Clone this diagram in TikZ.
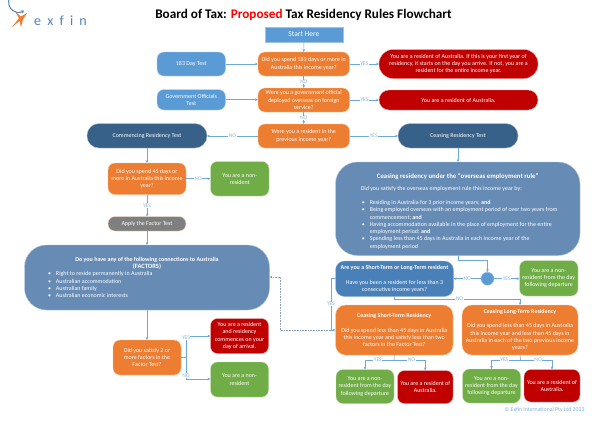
\documentclass[tikz,border=0pt]{standalone}
\usepackage{fontspec}
\setmainfont{Carlito}
\usetikzlibrary{arrows.meta,calc}
\definecolor{cblue}{HTML}{5B9BD5}
\definecolor{cdark}{HTML}{376188}
\definecolor{cmid}{HTML}{668BB4}
\definecolor{csl}{HTML}{4A80B8}
\definecolor{corange}{HTML}{ED7D31}
\definecolor{cred}{HTML}{C00000}
\definecolor{cgreen}{HTML}{70AD47}
\definecolor{cgray}{HTML}{7F7F7F}
\definecolor{cline}{HTML}{6FA8DC}
\definecolor{clab}{HTML}{8FB5DC}
\tikzset{
  boxbase/.style={rounded corners=#1,inner sep=0pt,outer sep=0pt,text=white,align=center,font=\fontsize{6}{7.3}\selectfont},
  boxbase/.default=7pt,
  bluebox/.style={boxbase,fill=cblue,draw=cblue!45},
  orangebox/.style={boxbase,fill=corange,draw=corange!45},
  redbox/.style={boxbase,fill=cred,draw=cred!35},
  greenbox/.style={boxbase,fill=cgreen,draw=cgreen!45},
  pillbox/.style={boxbase=12pt,fill=cdark,draw=cdark!45},
  midbox/.style={boxbase=22pt,fill=cmid,draw=cmid!50},
  conn/.style={draw=cline,line width=.6pt,-{Stealth[length=3pt,width=2.6pt]}},
  dashconn/.style={draw=cdark!60,line width=.6pt,densely dotted,-{Stealth[length=3pt,width=2.8pt]}},
  lab/.style={fill=white,inner sep=.4pt,text=clab,font=\fontsize{5.6}{5.6}\selectfont},
}
\newcommand{\bx}[7]{%
  \pgfmathsetmacro\cxx{(#3+#5)/2}\pgfmathsetmacro\cyy{(#4+#6)/2}%
  \pgfmathsetmacro\wdd{#5-#3}\pgfmathsetmacro\htt{#6-#4}%
  \node[#2,minimum width=\wdd pt,minimum height=\htt pt] (#1) at (\cxx,\cyy) {#7};}
\newcommand{\bul}[1]{\par{\leftskip=9pt\noindent\llap{\textbullet\hspace{5pt}}#1\par}}
\begin{document}
\begin{tikzpicture}[x=1pt,y=-1pt]
\useasboundingbox (0,0) rectangle (600,424);
\node[inner sep=0pt,font=\bfseries\fontsize{13.2}{14}\selectfont] (title) at (303.5,15) {Board of Tax: \textcolor{red}{Proposed} Tax Residency Rules Flowchart};
% logo
\node[inner sep=0pt,text=cblue!85!black,font=\fontsize{14}{14}\selectfont] (logotext) at (60.5,21) {e\hspace{6.2pt}x\hspace{6.2pt}f\hspace{6.2pt}i\hspace{6.2pt}n};
\draw[cblue!85!black,line width=1pt,{Stealth[length=3pt,width=4pt]}-] (24,10.5) arc[start angle=55,end angle=320,radius=9.8];
\fill[corange] (12,27) -- (19,18) -- (15,11.5) -- (21,16.5) -- (27,13) -- (23,19.5) -- (21,27) -- (19.5,21) -- cycle;
% boxes
\bx{start}{boxbase=0pt,fill=cblue,draw=cblue!60,font=\fontsize{7.5}{9}\selectfont}{264.7}{27}{343}{42}{Start Here}
\bx{t183}{bluebox}{157}{52}{225.5}{76}{183 Day Test}
\bx{tgov}{bluebox}{157}{89.5}{225.5}{110}{Government Officials\\Test}
\bx{q183}{orangebox}{258}{52}{349.5}{76}{Did you spend 183 days or more in\\Australia this income year?}
\bx{qgov}{orangebox}{258}{88}{349.5}{112}{Were you a government official\\deployed overseas on foreign\\service?}
\bx{qprev}{orangebox}{258}{124}{349.5}{148}{Were you a resident in the\\previous income year?}
\bx{r183}{redbox,boxbase=14pt}{379}{49.5}{538}{78.5}{You are a resident of Australia.  If this is your first year of\\residency, it starts on the day you arrive. If not, you are a\\resident for the entire income year.}
\bx{rgov}{redbox,boxbase=10pt}{379}{90}{538}{110}{You are a resident of Australia.}
\bx{tcom}{pillbox}{87}{123.5}{207}{148}{Commencing Residency Test}
\bx{tcea}{pillbox}{398}{123.5}{518}{148}{Ceasing Residency Test}
\bx{q45}{orangebox}{108}{163}{186}{194.5}{Did you spend 45 days or\\more in Australia this income\\year?}
\bx{gnon}{greenbox}{210.5}{161.5}{269}{196}{You are a non-\\resident}
\bx{apply}{boxbase=7pt,fill=cgray,draw=corange!30}{108}{216.5}{186}{231}{Apply the Factor Test}
\bx{factors}{midbox}{24.5}{245}{269.5}{310}{%
  \begin{minipage}{200pt}\fontsize{6}{7.3}\selectfont
  {\centering\textbf{Do you have any of the following connections to Australia}\\\textbf{\fontsize{6.5}{7.3}\selectfont (FACTORS)}\par}
  \bul{Right to reside permanently in Australia}
  \bul{Australian accommodation}
  \bul{Australian family}
  \bul{Australian economic interests}
  \end{minipage}}
\bx{q2f}{orangebox}{113}{340}{181}{375}{Did you satisfy 2 or\\more factors in the\\Factor Test?}
\bx{rarr}{redbox}{210.5}{318.5}{268.5}{353.5}{You are a resident\\and residency\\commences on your\\day of arrival.}
\bx{gnon2}{greenbox}{210.5}{362}{268.5}{397}{You are a non-\\resident}
\bx{oer}{midbox}{335.5}{162}{580}{255.5}{%
  \begin{minipage}{194pt}\fontsize{6}{7.3}\selectfont
  \vspace*{5pt}
  {\centering\textbf{\fontsize{6.8}{7.3}\selectfont Ceasing residency under the ``overseas employment rule''}\par}
  \vspace{4.6pt}\noindent\mbox{Did you satisfy the overseas employment rule this income year by:}\par\vspace{7pt}
  \bul{Residing in Australia for 3 prior income years; \textbf{and}}
  \bul{\mbox{Being employed overseas with an employment period of over two years from}\\commencement; \textbf{and}}
  \bul{\mbox{Having accommodation available in the place of employment for the entire}\\employment period; \textbf{and}}
  \bul{\mbox{Spending less than 45 days in Australia in each income year of the}\\employment period}
  \end{minipage}}
\bx{stlt}{boxbase=9pt,fill=csl,draw=csl!50}{335.5}{261}{453.5}{296.5}{\textbf{Are you a Short-Term or Long-Term resident}\\[7.3pt]Have you been a resident for less than 3\\consecutive income years?}
\node[circle,fill=cblue,draw=cblue!60,inner sep=0pt,outer sep=0pt,minimum size=13pt] (junc) at (487.5,278.7) {};
\bx{gdep}{greenbox}{519.5}{260.5}{578}{296}{You are a non-\\resident from the day\\following departure}
\bx{qst}{orangebox,boxbase=10pt}{335.5}{305}{453}{355}{\textbf{Ceasing Short-Term Residency}\\[7.3pt]Did you spend less than 45 days in Australia\\this income year and satisfy less than two\\factors in the Factor Test?}
\bx{qlt}{orangebox,boxbase=10pt}{462}{305}{578}{355}{\textbf{Ceasing Long-Term Residency}\\[7.3pt]Did you spend less than 45 days in Australia\\this income year and less than 45 days in\\Australia in each of the two previous income\\years?}
\bx{gst}{greenbox}{336}{369.5}{394}{403.5}{You are a non-\\resident from the day\\following departure}
\bx{rst}{redbox}{397.5}{370.5}{453}{403.5}{You are a resident of\\Australia.}
\bx{glt}{greenbox}{462.5}{369}{520.5}{403}{You are a non-\\resident from the day\\following departure}
\bx{rlt}{redbox}{524}{369.5}{580}{402}{You are a resident of\\Australia.}
\node[inner sep=0pt,text=cblue!80,font=\fontsize{5.8}{6}\selectfont] (copy) at (544.5,410) {© Exfin International Pty Ltd 2023};
% connectors
\draw[conn] (start) -- (q183);
\draw[conn] (q183) -- node[lab]{NO} (qgov);
\draw[conn] (qgov) -- node[lab]{NO} (qprev);
\draw[conn] (t183) -- (q183);
\draw[conn] (tgov) -- (tgov-|qgov.west);
\draw[conn] (q183) -- node[lab]{YES} (q183-|r183.west);
\draw[conn] (qgov) -- node[lab]{YES} (qgov-|rgov.west);
\draw[conn] (qprev) -- node[lab]{NO} (qprev-|tcom.east);
\draw[conn] (qprev) -- node[lab]{YES} (qprev-|tcea.west);
\draw[conn] (tcom) -- (tcom|-q45.north);
\draw[conn] (tcea) -- (tcea|-oer.north);
\draw[conn] (q45) -- node[lab]{NO} (q45-|gnon.west);
\draw[conn] (q45) -- node[lab]{YES} (apply);
\draw[conn] (apply) -- (factors);
\draw[conn] (factors) -- (factors|-q2f.north);
\coordinate (fork) at (186,357.5);
\draw[cline,line width=.6pt] (q2f.east|-fork) -- (fork);
\draw[conn] (fork) |- node[lab,pos=.45]{YES} (rarr.west|-0,336);
\draw[conn] (fork) |- node[lab,pos=.42]{NO} (gnon2.west|-0,379);
\draw[conn] (458,255.5) -- (458,260) -| (junc.north);
\draw[conn] (junc) -- node[lab]{NO} (stlt.east|-junc);
\draw[conn] (junc) -- node[lab]{YES} (gdep.west|-junc);
\draw[conn] (394,296.5) -- (394,299) -| node[lab,pos=.26]{NO} (520,305);
\draw[conn] (stlt.west|-0,278) -- (331,278) |- node[lab,pos=.25]{YES} (qst.west|-0,330);
\draw[dashconn] (331,330) -- (280,330) |- (factors.east|-0,277);
\coordinate (stf) at (394,360);
\draw[cline,line width=.6pt] (qst.south) -- (stf);
\draw[conn] (stf) -| node[lab,pos=.28]{YES} (gst.north);
\draw[conn] (stf) -| node[lab,pos=.28]{NO} (rst.north);
\coordinate (ltf) at (520.5,360);
\draw[cline,line width=.6pt] (qlt.south) -- (ltf);
\draw[conn] (ltf) -| node[lab,pos=.28]{YES} (glt.north);
\draw[conn] (ltf) -| node[lab,pos=.28]{NO} (rlt.north);
\end{tikzpicture}
\end{document}
